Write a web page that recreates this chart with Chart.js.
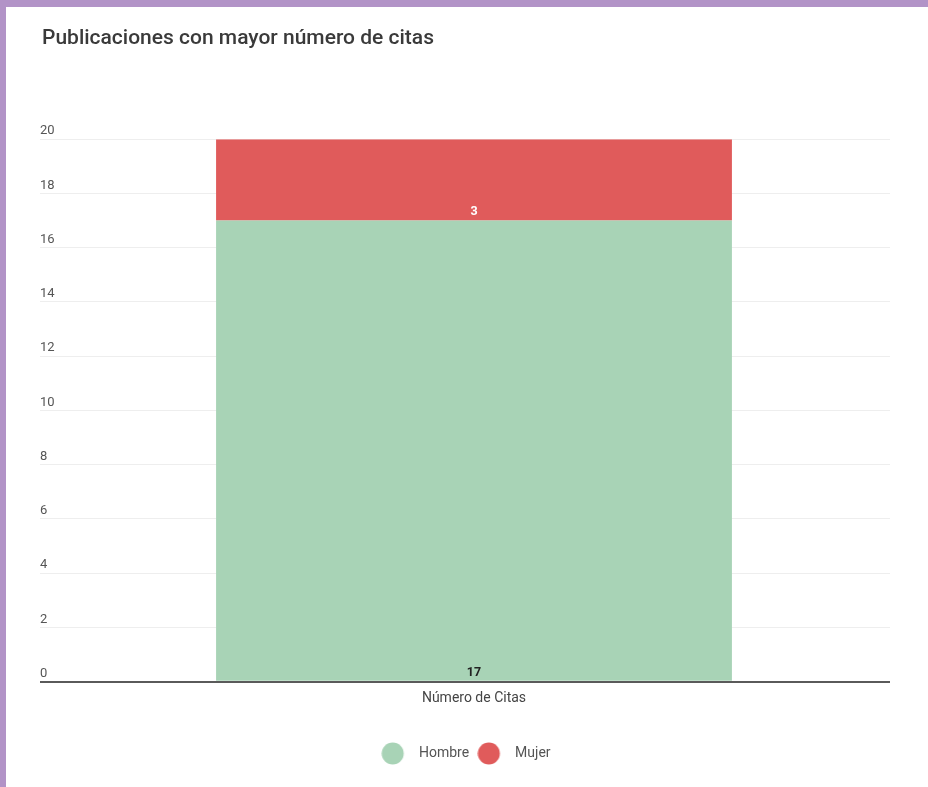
<!DOCTYPE html>
<html>
<head>
<meta charset="utf-8">
<script src="https://cdn.jsdelivr.net/npm/chart.js@4.4.1/dist/chart.umd.min.js"></script>
<style>
  html, body { margin: 0; padding: 0; background: #ffffff; }
  #frame { width: 922px; height: 780px; border-left: 6px solid #b293c7; border-top: 7px solid #b293c7; background: #fff; }
  #wrap { position: relative; width: 922px; height: 780px; }
</style>
</head>
<body>
<div id="frame"><div id="wrap"><canvas id="c"></canvas></div></div>
<script>
const categories = ["Número de Citas"];
const seriesNames = ["Hombre", "Mujer"];
const hombreValues = [17];
const mujerValues = [3];
const yTicks = [0, 2, 4, 6, 8, 10, 12, 14, 16, 18, 20];
const titleText = "Publicaciones con mayor número de citas";

const GREEN = "#a8d3b6";
const RED = "#e05b5b";

function circleImg(color) {
  const c = document.createElement("canvas");
  c.width = 31; c.height = 23;
  const g = c.getContext("2d");
  g.fillStyle = color;
  g.beginPath(); g.arc(11.5, 11.5, 11, 0, Math.PI * 2); g.fill();
  return c;
}

const valueLabels = {
  id: "valueLabels",
  afterDatasetsDraw(chart) {
    const ctx = chart.ctx;
    const colors = ["#222222", "#ffffff"];
    chart.data.datasets.forEach((ds, di) => {
      const meta = chart.getDatasetMeta(di);
      meta.data.forEach((el, i) => {
        const v = ds.data[i];
        ctx.save();
        ctx.font = "bold 12.5px Roboto";
        ctx.fillStyle = colors[di];
        ctx.textAlign = "center";
        ctx.textBaseline = "bottom";
        ctx.fillText(String(v), el.x, el.base - 2);
        ctx.restore();
      });
    });
  }
};

new Chart(document.getElementById("c"), {
  type: "bar",
  data: {
    labels: categories,
    datasets: [
      { label: seriesNames[0], data: hombreValues, backgroundColor: GREEN, pointStyle: circleImg(GREEN) },
      { label: seriesNames[1], data: mujerValues, backgroundColor: RED, pointStyle: circleImg(RED) }
    ]
  },
  options: {
    responsive: true,
    maintainAspectRatio: false,
    animation: false,
    layout: { padding: { left: 36, right: 38, top: 0, bottom: 16.5 } },
    datasets: { bar: { categoryPercentage: 1, barPercentage: 0.62 } },
    scales: {
      x: {
        stacked: true,
        grid: { display: false, drawTicks: false },
        border: { display: false },
        ticks: { color: "#444", font: { family: "Roboto", size: 14 }, padding: 8 },
        afterFit(axis) { axis.height += 23.5; }
      },
      y: {
        stacked: true,
        min: 0, max: 20,
        afterBuildTicks(axis) { axis.ticks = yTicks.map(v => ({ value: v })); },
        afterFit(axis) { axis.width = 16; },
        grid: {
          color: (c) => (c.tick && c.tick.value === 0 ? "#5a5a5a" : "#eeeeee"),
          lineWidth: (c) => (c.tick && c.tick.value === 0 ? 2 : 1),
          drawTicks: true, tickLength: 18
        },
        border: { display: false },
        ticks: { mirror: true, padding: -18, labelOffset: -8, color: "#555", font: { family: "Roboto", size: 13 } }
      }
    },
    plugins: {
      title: {
        display: true, text: titleText, align: "start",
        color: "#3a3a3a", font: { family: "Roboto", size: 21, weight: "500" },
        padding: { top: 19, bottom: 88 }
      },
      legend: {
        position: "bottom",
        labels: {
          usePointStyle: true, pointStyleWidth: 30.5, padding: 8.5,
          color: "#555", font: { family: "Roboto", size: 14 }
        }
      },
      tooltip: { enabled: false }
    }
  },
  plugins: [valueLabels]
});
</script>
</body>
</html>
